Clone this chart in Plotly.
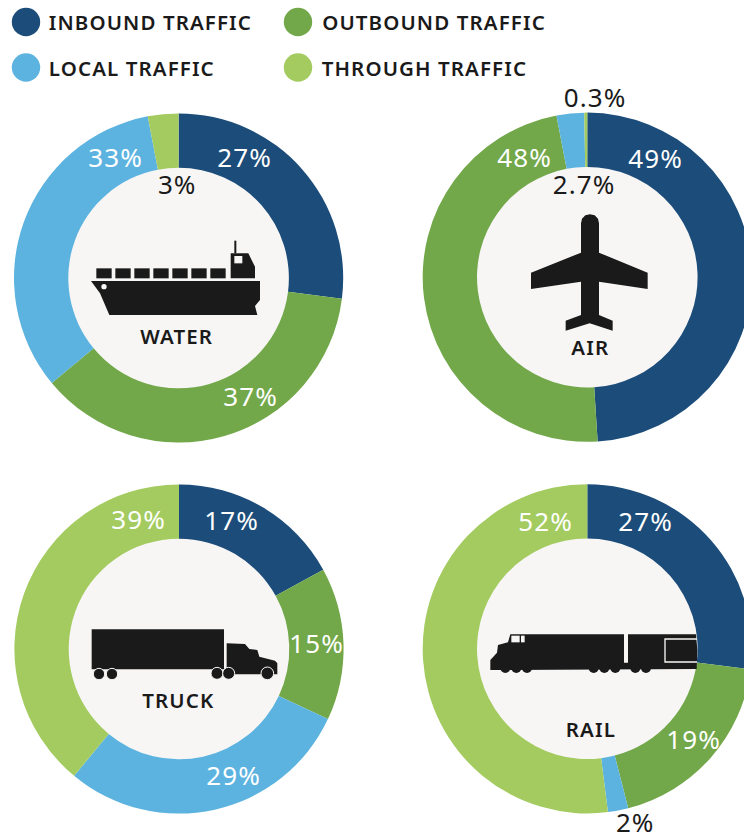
import plotly.graph_objects as go

# ---------- data ----------
series_names = ["INBOUND TRAFFIC", "OUTBOUND TRAFFIC", "LOCAL TRAFFIC", "THROUGH TRAFFIC"]
water_values = [27, 37, 33, 3]
air_values = [49, 48, 2.7, 0.3]
truck_values = [17, 15, 29, 39]
rail_values = [27, 19, 2, 52]
mode_names = ["WATER", "AIR", "TRUCK", "RAIL"]
water_labels = ["27%", "37%", "33%", "3%"]
air_labels = ["49%", "48%", "2.7%", "0.3%"]
truck_labels = ["17%", "15%", "29%", "39%"]
rail_labels = ["27%", "19%", "2%", "52%"]

# ---------- style / layout ----------
W, H = 752, 839
R = 164.6
HOLE = 0.67
COLORS = ["#1B4C7A", "#72A84A", "#5DB3DF", "#A3CB5F"]
INNER = "#F7F6F5"
INK = "#1A1A1A"
FONT = "Noto Sans"
PCT_SIZE = 26
LEGEND_SIZE = 20.5
NAME_SIZE = 20.5
SPACING = 1.1

centers = [(178.6, 278), (587.3, 277.2), (179, 649), (587.3, 648.8)]
name_pos = [(177, 336), (590, 347), (178, 700), (591, 729)]
label_pos = [
    [(244, 157), (251, 396), (115, 157), (177, 184)],
    [(655, 158), (524, 157), (584, 184), (595, 97)],
    [(231, 520), (316, 643), (233, 775), (138, 519)],
    [(645, 521), (693, 739), (635, 821.5), (545, 521)],
]
label_dark = [
    [False, False, False, True],
    [False, False, True, True],
    [False, False, False, False],
    [False, False, True, False],
]
legend_pos = [(26, 22, 47), (298, 22, 320), (26, 67.5, 47), (298, 67.5, 320)]


def px(x):
    return x / W


def py(y):
    return 1 - y / H


def P(points, ox, oy):
    """Icon outline traced in zoomed (3x) pixels -> SVG path in paper space."""
    out = []
    for i, (a, b) in enumerate(points):
        out.append(("M" if i == 0 else "L") + f"{px(ox + a / 3):.5f},{py(oy + b / 3):.5f}")
    return " ".join(out) + " Z"


def poly(points, ox, oy, color=INK):
    return dict(type="path", path=P(points, ox, oy), xref="paper", yref="paper",
                fillcolor=color, line=dict(width=0), layer="above")


def rect(a0, b0, a1, b1, ox, oy, color=INK):
    return poly([(a0, b0), (a1, b0), (a1, b1), (a0, b1)], ox, oy, color)


def circle(cx, cy, r, color, layer="above", line_color=None, line_width=0):
    return dict(type="circle", xref="paper", yref="paper", layer=layer,
                x0=px(cx - r), x1=px(cx + r), y0=py(cy + r), y1=py(cy - r),
                fillcolor=color, line=dict(width=line_width, color=line_color or color))


def zcircle(a, b, r, ox, oy, color=INK, ring=None):
    return circle(ox + a / 3, oy + b / 3, r / 3, color,
                  line_color=ring, line_width=1 if ring else 0)


fig = go.Figure()
all_values = [water_values, air_values, truck_values, rail_values]
shapes = []
annotations = []

for i, vals in enumerate(all_values):
    cx, cy = centers[i]
    fig.add_trace(go.Pie(
        values=vals, labels=series_names, hole=HOLE, sort=False,
        direction="clockwise", rotation=0, textinfo="none", showlegend=False,
        marker=dict(colors=COLORS, line=dict(width=0)),
        domain=dict(x=[px(cx - R), px(cx + R)], y=[py(cy + R), py(cy - R)]),
    ))
    shapes.append(circle(cx, cy, R * HOLE + 0.5, INNER, layer="below"))

# legend (the extra tracking spreads around the box centre, hence the half-width offset)
for name, color, (cx, cy, tx) in zip(series_names, COLORS, legend_pos):
    shapes.append(circle(cx, cy, 14.2, color))
    annotations.append(dict(x=px(tx + SPACING * len(name) / 2), y=py(cy), text=name,
                            xref="paper", yref="paper",
                            xanchor="left", yanchor="middle", showarrow=False,
                            font=dict(family=FONT, size=LEGEND_SIZE, color=INK, weight=600)))

# labels
all_labels = [water_labels, air_labels, truck_labels, rail_labels]
for labs, poss, darks in zip(all_labels, label_pos, label_dark):
    for t, (x, y), d in zip(labs, poss, darks):
        annotations.append(dict(x=px(x), y=py(y), text=t, xref="paper", yref="paper",
                                xanchor="center", yanchor="middle", showarrow=False,
                                font=dict(family=FONT, size=PCT_SIZE, color=INK if d else "white")))
for t, (x, y) in zip(mode_names, name_pos):
    annotations.append(dict(x=px(x), y=py(y), text=t, xref="paper", yref="paper",
                            xanchor="center", yanchor="middle", showarrow=False,
                            font=dict(family=FONT, size=NAME_SIZE, color=INK, weight=600)))

# ---------- icons ----------
# ship
o = (0, 0)
shapes.append(poly([(273, 843), (780, 843), (780, 900), (765, 918), (772, 945), (328, 945), (300, 880)], *o))
for a in (289, 346, 403, 460, 517, 574, 631):
    shapes.append(rect(a, 805, a + 46, 835, *o))
shapes.append(poly([(692, 835), (692, 760), (745, 760), (765, 800), (765, 835)], *o))
shapes.append(rect(703, 722, 709, 760, *o))
shapes.append(rect(703, 768, 727, 790, *o, INNER))
shapes.append(zcircle(312, 860, 8, *o, INNER))

# plane
o = (372, 80)
shapes.append(poly([(627, 430), (630, 416), (640, 406), (654, 403), (668, 406), (678, 416), (681, 430),
                    (681, 518), (827, 578), (827, 627), (681, 605), (681, 705), (722, 722), (722, 752),
                    (653, 730), (581, 752), (581, 722), (627, 705), (627, 605), (477, 627), (477, 578),
                    (627, 518)], *o))

# truck
o = (0, 470)
shapes.append(rect(275, 478, 672, 598, *o))
shapes.append(poly([(680, 520), (735, 522), (748, 537), (772, 540), (778, 560), (825, 572), (832, 580),
                    (832, 613), (700, 613), (700, 600), (680, 600)], *o))
for a, b, r in [(297, 612, 17), (336, 612, 17), (651, 610, 18), (686, 610, 18), (802, 610, 19)]:
    shapes.append(zcircle(a, b, r, *o, INK, INNER))

# train
o = (372, 470)
shapes.append(poly([(355, 600), (355, 570), (375, 548), (378, 525), (408, 517), (415, 493), (756, 493),
                    (756, 578), (768, 578), (768, 493), (972, 493), (976, 540), (974, 597), (355, 600)], *o))
for a in (400, 433, 465, 665, 697, 730, 790, 822):
    shapes.append(zcircle(a, 594, 15, *o))
shapes.append(poly([(877, 505), (975, 505), (975, 509), (881, 509), (881, 574), (975, 574), (975, 578), (877, 578)], *o, INNER))
shapes.append(rect(418, 497, 443, 517, *o, INNER))
shapes.append(rect(447, 497, 458, 517, *o, INNER))

fig.update_layout(
    width=W, height=H, margin=dict(l=0, r=0, t=0, b=0, autoexpand=False),
    paper_bgcolor="white", plot_bgcolor="white", showlegend=False,
    shapes=shapes, annotations=annotations, font=dict(family=FONT),
)
fig.write_html("out.html", config=dict(displayModeBar=False),
               post_script="document.body.style.margin='0';document.body.style.overflow='hidden';"
                           "document.documentElement.style.overflow='hidden';"
                           "var s=document.createElement('style');"
                           f"s.textContent='.annotation-text{{letter-spacing:{SPACING}px}}';"
                           "document.head.appendChild(s);")
